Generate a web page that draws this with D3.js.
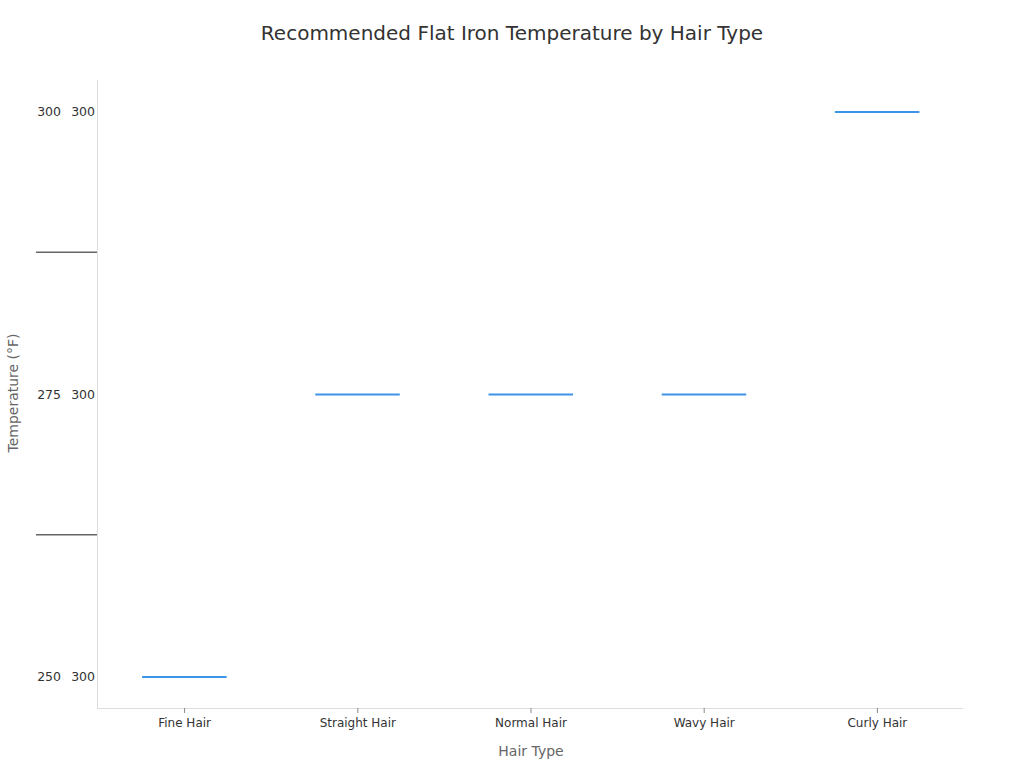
<!DOCTYPE html>
<html><head><meta charset="utf-8">
<script src="https://cdn.jsdelivr.net/npm/d3@7"></script>
<style>body{margin:0;background:#fff;font-family:"DejaVu Sans",sans-serif}</style>
</head><body>
<svg id="c" width="1024" height="768"></svg>
<script>
const categories = ["Fine Hair","Straight Hair","Normal Hair","Wavy Hair","Curly Hair"];
const temps = [250, 275, 275, 275, 300];
const tickValues = [250, 275, 300];
const tickSecondLabels = ["300", "300", "300"];
const dividerValues = [262.5, 287.5];
const yDomain = [247.17, 302.74];

const svg = d3.select("#c");
const m = {l:97, r:963, t:80, b:708};
const x = d3.scaleBand().domain(categories).range([m.l + 1, m.r + 1]);
const y = d3.scaleLinear().domain(yDomain).range([m.b + 1, m.t + 1]);

svg.append("text").attr("x",512).attr("y",40).attr("text-anchor","middle")
  .attr("font-size",20).attr("fill","#333").text("Recommended Flat Iron Temperature by Hair Type");

// axes lines
svg.append("line").attr("x1",m.l+0.5).attr("x2",m.l+0.5).attr("y1",m.t).attr("y2",m.b).attr("stroke","#ddd");
svg.append("line").attr("x1",m.l).attr("x2",m.r).attr("y1",m.b+0.5).attr("y2",m.b+0.5).attr("stroke","#ddd");
const xAxis = svg.append("g").attr("transform",`translate(0,${m.b})`)
  .call(d3.axisBottom(x).tickSize(5).tickSizeOuter(0));
xAxis.select(".domain").remove();
xAxis.selectAll(".tick line").attr("stroke","#888");
xAxis.selectAll(".tick text").attr("font-size",12).attr("fill","#333").attr("dy","0.95em")
  .attr("font-family","DejaVu Sans");

// y tick labels (two columns)
const yt = svg.append("g");
tickValues.forEach((v,i)=>{
  yt.append("text").attr("x",61).attr("y",y(v)).attr("dy","0.35em").attr("text-anchor","end")
    .attr("font-size",12.5).attr("fill","#333").text(v);
  yt.append("text").attr("x",95).attr("y",y(v)).attr("dy","0.35em").attr("text-anchor","end")
    .attr("font-size",12.5).attr("fill","#333").text(tickSecondLabels[i]);
});
dividerValues.forEach(v=>{
  svg.append("line").attr("x1",36).attr("x2",97).attr("y1",y(v)-1).attr("y2",y(v)-1)
    .attr("stroke","#666").attr("stroke-width",1.3);
});

// segments
svg.append("g").selectAll("line").data(categories).join("line")
  .attr("x1",d=>x(d)+x.bandwidth()/2-42.5).attr("x2",d=>x(d)+x.bandwidth()/2+42)
  .attr("y1",(d,i)=>y(temps[i])).attr("y2",(d,i)=>y(temps[i]))
  .attr("stroke","#3d93e6").attr("stroke-width",2);

svg.append("text").attr("x",531).attr("y",756).attr("text-anchor","middle")
  .attr("font-size",14).attr("fill","#666").text("Hair Type");
svg.append("text").attr("transform","translate(18,393) rotate(-90)").attr("text-anchor","middle")
  .attr("font-size",14).attr("fill","#666").text("Temperature (°F)");
</script>
</body></html>
